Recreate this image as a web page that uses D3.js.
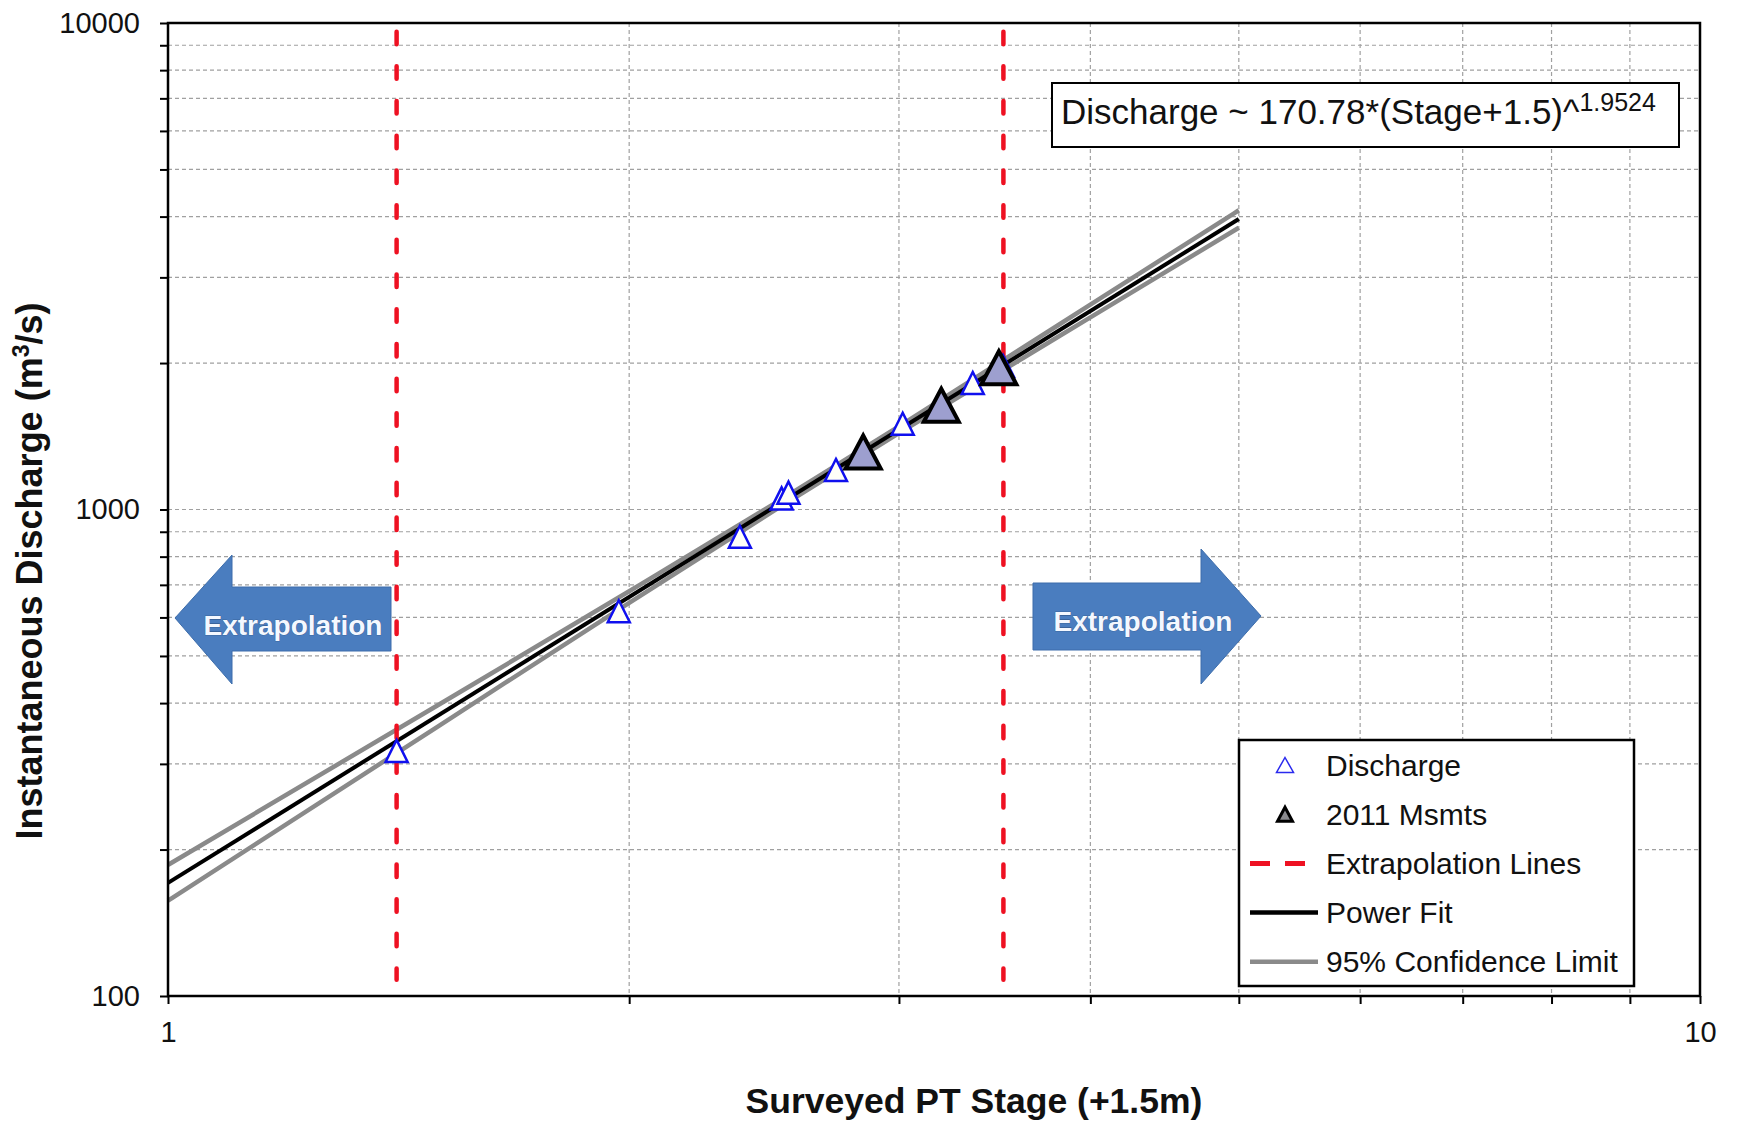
<!DOCTYPE html>
<html>
<head>
<meta charset="utf-8">
<script src="https://cdn.jsdelivr.net/npm/d3@7"></script>
<style>
  html, body { margin: 0; padding: 0; background: #fff; }
  svg { display: block; font-family: "Liberation Sans", Arial, sans-serif; }
</style>
</head>
<body>
<svg id="chart" width="1737" height="1123"></svg>
<script>
// Rating curve: instantaneous discharge against surveyed PT stage (log-log)

// Axis ticks
const stageTicks = [1, 2, 3, 4, 5, 6, 7, 8, 9, 10];
const dischargeTicks = [100, 200, 300, 400, 500, 600, 700, 800, 900,
                        1000, 2000, 3000, 4000, 5000, 6000, 7000, 8000, 9000, 10000];
const stageLabels = [1, 10];
const dischargeLabels = [100, 1000, 10000];

// Gauged discharge measurements
const dischargeStage = [1.41, 1.969, 2.362, 2.515, 2.541, 2.729, 3.017, 3.352, 3.508];
const dischargeFlow  = [319, 618, 879, 1054, 1083, 1206, 1501, 1820, 1972];

// 2011 measurements
const msmtStage = [2.843, 3.197, 3.486];
const msmtFlow  = [1313, 1638, 1956];

// Power fit: Discharge ~ a*(Stage+1.5)^b
const fitCoef = 170.78;
const fitExp = 1.9524;
const fitStageRange = [1, 5];

// 95% confidence limits
const ciStage = [1, 1.5, 2, 2.5, 3, 3.5, 4, 5];
const ciUpper = [186, 396, 679, 1038, 1482, 2017, 2636, 4122];
const ciLower = [157, 358, 643, 1005, 1435, 1926, 2482, 3795];

// Extrapolation limits (stage range covered by measurements)
const extrapStage = [1.41, 3.51];
const extrapFlow = [9600, 108];

const svg = d3.select("#chart");
const L = 168, R = 1700, T = 23, B = 996;

const x = d3.scaleLog().domain([1, 10]).range([L, R]);
const y = d3.scaleLog().domain([100, 10000]).range([B, T]);

// Gridlines
const grid = svg.append("g").attr("stroke", "#a0a0a0").attr("stroke-width", 1.2)
  .attr("stroke-dasharray", "4,3");
grid.selectAll("line.h").data(dischargeTicks.filter(d => d > 100 && d < 10000)).join("line")
  .attr("x1", L).attr("x2", R).attr("y1", d => y(d)).attr("y2", d => y(d));
grid.selectAll("line.v").data(stageTicks.filter(d => d > 1 && d < 10)).join("line")
  .attr("y1", T).attr("y2", B).attr("x1", d => x(d)).attr("x2", d => x(d));

// Extrapolation arrows
const arrowFill = "#4a7dbf";
const ay = 618;
const leftArrow = [[175, ay], [232, ay - 63], [232, ay - 31], [391, ay - 31],
                   [391, ay + 33], [232, ay + 33], [232, ay + 66]];
const rightArrow = [[1261, ay - 2], [1201, ay - 69], [1201, ay - 35], [1033, ay - 35],
                    [1033, ay + 32], [1201, ay + 32], [1201, ay + 66]];
[leftArrow, rightArrow].forEach(pts => {
  svg.append("path").attr("d", "M" + pts.map(p => p.join(",")).join("L") + "Z")
    .attr("fill", arrowFill).attr("stroke", "#3d6dab").attr("stroke-width", 1);
});
const arrowText = [{cx: 293, by: 635}, {cx: 1143, by: 631}];
arrowText.forEach(t => {
  svg.append("text").attr("x", t.cx).attr("y", t.by).attr("text-anchor", "middle")
    .attr("font-size", 28).attr("font-weight", "bold").attr("fill", "#f4f8ff")
    .attr("stroke", "#2d4f80").attr("stroke-width", 0.6).attr("paint-order", "stroke")
    .text("Extrapolation");
});

// Confidence limits
const ciLine = d3.line().x(d => x(d[0])).y(d => y(d[1])).curve(d3.curveMonotoneX);
[ciUpper, ciLower].forEach(arr => {
  svg.append("path").attr("d", ciLine(ciStage.map((s, i) => [s, arr[i]])))
    .attr("fill", "none").attr("stroke", "#8a8a8a").attr("stroke-width", 4.5);
});

// Power fit
const fitPts = fitStageRange.map(s => [s, fitCoef * Math.pow(s, fitExp)]);
svg.append("path").attr("d", d3.line().x(d => x(d[0])).y(d => y(d[1]))(fitPts))
  .attr("fill", "none").attr("stroke", "#000").attr("stroke-width", 4);

// Extrapolation lines
svg.selectAll("line.extrap").data(extrapStage).join("line")
  .attr("x1", d => x(d)).attr("x2", d => x(d))
  .attr("y1", y(extrapFlow[0])).attr("y2", y(extrapFlow[1]))
  .attr("stroke", "#ee1122").attr("stroke-width", 4.5)
  .attr("stroke-linecap", "round").attr("stroke-dasharray", "12.5,22.2");

// Triangle marker path centred on its bounding box
const tri = (w, h) => `M0,${-h / 2}L${w / 2},${h / 2}L${-w / 2},${h / 2}Z`;

svg.append("g").selectAll("path").data(dischargeStage.map((s, i) => [s, dischargeFlow[i]]))
  .join("path").attr("d", tri(22, 22))
  .attr("transform", d => `translate(${x(d[0])},${y(d[1])})`)
  .attr("fill", "#fffff8").attr("stroke", "#1010ee").attr("stroke-width", 2.5);

svg.append("g").selectAll("path").data(msmtStage.map((s, i) => [s, msmtFlow[i]]))
  .join("path").attr("d", tri(35, 33))
  .attr("transform", d => `translate(${x(d[0])},${y(d[1])})`)
  .attr("fill", "#9d9fcf").attr("stroke", "#000").attr("stroke-width", 4);

// Plot frame
svg.append("rect").attr("x", L).attr("y", T).attr("width", R - L).attr("height", B - T)
  .attr("fill", "none").attr("stroke", "#000").attr("stroke-width", 2.5);

// Axes
const fmt = d => (dischargeLabels.includes(d) ? String(d) : "");
const yAxis = svg.append("g").attr("transform", `translate(${L},0)`)
  .call(d3.axisLeft(y).tickValues(dischargeTicks).tickFormat(fmt).tickSize(8).tickPadding(20));
const xAxis = svg.append("g").attr("transform", `translate(0,${B})`)
  .call(d3.axisBottom(x).tickValues(stageTicks)
    .tickFormat(d => (stageLabels.includes(d) ? String(d) : "")).tickSize(8).tickPadding(17));
[yAxis, xAxis].forEach(ax => {
  ax.select(".domain").remove();
  ax.selectAll(".tick line").attr("stroke", "#000").attr("stroke-width", 2);
  ax.selectAll(".tick text").attr("font-size", 29).attr("fill", "#111")
    .attr("font-family", "'Liberation Sans', Arial, sans-serif");
});

// Axis titles
svg.append("text").attr("x", 974).attr("y", 1113).attr("text-anchor", "middle")
  .attr("font-size", 35.5).attr("font-weight", "bold").attr("fill", "#111")
  .text("Surveyed PT Stage (+1.5m)");
const yt = svg.append("text").attr("transform", "translate(42,571) rotate(-90)")
  .attr("text-anchor", "middle").attr("font-size", 36).attr("font-weight", "bold").attr("fill", "#111");
yt.append("tspan").text("Instantaneous Discharge (m");
yt.append("tspan").attr("font-size", 23).attr("dy", -13).text("3");
yt.append("tspan").attr("dy", 13).text("/s)");

// Equation box
svg.append("rect").attr("x", 1052).attr("y", 83).attr("width", 627).attr("height", 64)
  .attr("fill", "#fff").attr("stroke", "#000").attr("stroke-width", 2);
const eq = svg.append("text").attr("x", 1061).attr("y", 124).attr("font-size", 35).attr("fill", "#111");
eq.append("tspan").text(`Discharge ~ ${fitCoef}*(Stage+1.5)^`);
eq.append("tspan").attr("font-size", 25).attr("dy", -13).text(fitExp);

// Legend
const lg = svg.append("g");
lg.append("rect").attr("x", 1239).attr("y", 740).attr("width", 395).attr("height", 246)
  .attr("fill", "#fff").attr("stroke", "#000").attr("stroke-width", 2.5);
const rows = [
  {label: "Discharge", kind: "open"},
  {label: "2011 Msmts", kind: "filled"},
  {label: "Extrapolation Lines", kind: "dash"},
  {label: "Power Fit", kind: "fit"},
  {label: "95% Confidence Limit", kind: "ci"}
];
rows.forEach((r, i) => {
  const cy = 765 + i * 49.2;
  if (r.kind === "open") {
    lg.append("path").attr("d", tri(17, 15)).attr("transform", `translate(1285,${cy})`)
      .attr("fill", "#fff").attr("stroke", "#2a2aee").attr("stroke-width", 1.5);
  } else if (r.kind === "filled") {
    lg.append("path").attr("d", tri(15, 14)).attr("transform", `translate(1285,${cy})`)
      .attr("fill", "#8a8a8e").attr("stroke", "#000").attr("stroke-width", 3);
  } else if (r.kind === "dash") {
    lg.append("line").attr("x1", 1250).attr("x2", 1306).attr("y1", cy).attr("y2", cy)
      .attr("stroke", "#ee1122").attr("stroke-width", 5).attr("stroke-dasharray", "20,15");
  } else {
    lg.append("line").attr("x1", 1250).attr("x2", 1318).attr("y1", cy).attr("y2", cy)
      .attr("stroke", r.kind === "fit" ? "#000" : "#8a8a8a").attr("stroke-width", 4.5);
  }
  lg.append("text").attr("x", 1326).attr("y", cy + 10.5).attr("font-size", 30).attr("fill", "#111")
    .text(r.label);
});
</script>
</body>
</html>
